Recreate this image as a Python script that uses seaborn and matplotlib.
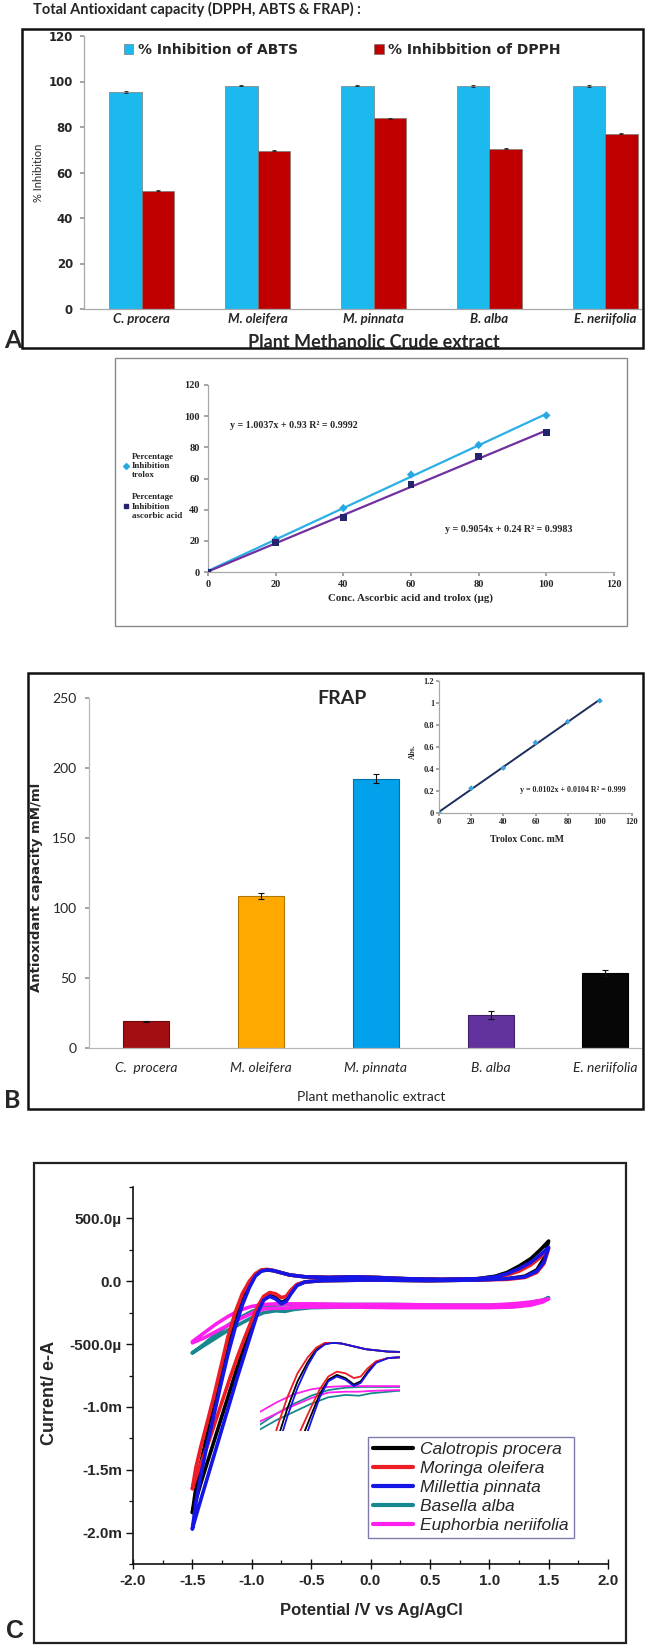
import numpy as np
import pandas as pd
import matplotlib
matplotlib.use("Agg")
import matplotlib.pyplot as plt
import seaborn as sns
from matplotlib.patches import Rectangle
from matplotlib.lines import Line2D
from matplotlib.ticker import MultipleLocator

sns.set_theme(style="white")
plt.rcParams['font.family'] = ['DejaVu Sans']

# ---------------- data ----------------
title_txt = "Total Antioxidant capacity (DPPH, ABTS & FRAP) :"
plants_a = ["C. procera", "M. oleifera", "M. pinnata", "B. alba", "E. neriifolia"]
series_a = ["% Inhibition of ABTS", "% Inhibbition of DPPH"]
abts = [95.4, 98.2, 98.2, 98.0, 98.1]
dpph = [52.0, 69.5, 83.8, 70.4, 77.0]
abts_err = [0.4, 0.3, 0.3, 0.3, 0.4]
dpph_err = [0.2, 0.2, 0.2, 0.2, 0.2]

conc = [0, 20, 40, 60, 80, 100]
trolox_inh = [0, 21, 41, 62.5, 81.5, 100.5]
ascorbic_inh = [0, 19, 35, 56, 74, 89.5]
eq_trolox = "y = 1.0037x + 0.93 R² = 0.9992"
eq_ascorbic = "y = 0.9054x + 0.24 R² = 0.9983"

plants_b = ["C.  procera", "M. oleifera", "M. pinnata", "B. alba", "E. neriifolia"]
frap = [19.0, 108.5, 192.5, 23.5, 53.5]
frap_err = [0.6, 2.0, 3.2, 3.0, 2.4]
trolox_conc = [0, 20, 40, 60, 80, 100]
trolox_abs = [0.0, 0.225, 0.41, 0.64, 0.83, 1.02]
eq_frap = "y = 0.0102x + 0.0104 R² = 0.999"

cv_names = ["Calotropis procera", "Moringa oleifera", "Millettia pinnata",
            "Basella alba", "Euphorbia neriifolia"]
# potential (V) for the three strong responses, forward and return scan
e_fwd1 = [-1.50, -1.47, -1.43, -1.38, -1.32, -1.26, -1.20, -1.14, -1.08, -1.02, -0.97,
          -0.92, -0.87, -0.82, -0.76, -0.68, -0.55, -0.35, -0.15, 0.05, 0.30, 0.60,
          0.90, 1.05, 1.15, 1.25, 1.35, 1.43, 1.50]
e_ret1 = [1.50, 1.46, 1.40, 1.30, 1.15, 0.90, 0.50, 0.00, -0.40, -0.55, -0.62, -0.67,
          -0.71, -0.75, -0.80, -0.85, -0.90, -0.95, -1.00, -1.06, -1.12, -1.18, -1.24,
          -1.30, -1.36, -1.42, -1.47, -1.50]
# current (mA)
cp_fwd = [-1.84, -1.64, -1.45, -1.24, -1.00, -0.75, -0.52, -0.32, -0.15, -0.03, 0.05,
          0.085, 0.09, 0.085, 0.07, 0.05, 0.035, 0.03, 0.035, 0.03, 0.02, 0.015,
          0.02, 0.04, 0.07, 0.12, 0.18, 0.25, 0.32]
cp_ret = [0.32, 0.18, 0.09, 0.04, 0.02, 0.01, 0.005, 0.01, 0.005, -0.005, -0.03, -0.09,
          -0.15, -0.17, -0.13, -0.11, -0.14, -0.23, -0.36, -0.52, -0.68, -0.86, -1.04,
          -1.22, -1.40, -1.58, -1.74, -1.84]
mo_fwd = [-1.65, -1.48, -1.32, -1.14, -0.92, -0.68, -0.44, -0.25, -0.10, 0.00, 0.06,
          0.09, 0.095, 0.085, 0.07, 0.05, 0.035, 0.03, 0.035, 0.03, 0.02, 0.015,
          0.02, 0.03, 0.05, 0.08, 0.13, 0.19, 0.26]
mo_ret = [0.26, 0.14, 0.07, 0.03, 0.015, 0.01, 0.005, 0.01, 0.005, -0.005, -0.025, -0.07,
          -0.12, -0.13, -0.10, -0.09, -0.12, -0.20, -0.31, -0.45, -0.60, -0.76, -0.93,
          -1.10, -1.27, -1.43, -1.56, -1.65]
mp_fwd = [-1.97, -1.76, -1.55, -1.32, -1.07, -0.82, -0.58, -0.37, -0.19, -0.05, 0.04,
          0.08, 0.09, 0.085, 0.07, 0.05, 0.035, 0.03, 0.035, 0.03, 0.02, 0.015,
          0.02, 0.035, 0.06, 0.10, 0.15, 0.21, 0.27]
mp_ret = [0.27, 0.15, 0.08, 0.035, 0.02, 0.01, 0.005, 0.01, 0.005, -0.005, -0.035, -0.10,
          -0.16, -0.18, -0.14, -0.12, -0.15, -0.25, -0.40, -0.58, -0.76, -0.95, -1.14,
          -1.33, -1.52, -1.71, -1.87, -1.97]
# potential (V) for the two weak responses
e_fwd2 = [-1.50, -1.40, -1.30, -1.20, -1.10, -1.00, -0.90, -0.80, -0.70, -0.50, -0.20,
          0.20, 0.60, 1.00, 1.20, 1.35, 1.45, 1.50]
e_ret2 = [1.50, 1.45, 1.35, 1.20, 1.00, 0.60, 0.20, -0.20, -0.50, -0.65, -0.72, -0.80,
          -0.90, -1.00, -1.10, -1.20, -1.30, -1.40, -1.50]
ba_fwd = [-0.57, -0.50, -0.42, -0.35, -0.29, -0.24, -0.205, -0.19, -0.185, -0.185, -0.185,
          -0.185, -0.19, -0.19, -0.185, -0.17, -0.15, -0.13]
ba_ret = [-0.13, -0.16, -0.185, -0.20, -0.205, -0.205, -0.205, -0.205, -0.21, -0.225, -0.24,
          -0.235, -0.25, -0.29, -0.34, -0.39, -0.45, -0.51, -0.57]
en_fwd = [-0.48, -0.41, -0.34, -0.28, -0.23, -0.20, -0.185, -0.18, -0.18, -0.18, -0.185,
          -0.185, -0.19, -0.19, -0.18, -0.165, -0.15, -0.14]
en_ret = [-0.14, -0.165, -0.19, -0.205, -0.21, -0.21, -0.21, -0.205, -0.205, -0.21, -0.215,
          -0.215, -0.22, -0.255, -0.30, -0.35, -0.40, -0.45, -0.49]

cv_yticks = [0.5, 0.0, -0.5, -1.0, -1.5, -2.0]
cv_ylabels = ["500.0µ", "0.0", "-500.0µ", "-1.0m", "-1.5m", "-2.0m"]
cv_xticks = [-2.0, -1.5, -1.0, -0.5, 0.0, 0.5, 1.0, 1.5, 2.0]

# ---------------- styles ----------------
c_abts, c_dpph = "#1BB9EE", "#C00000"
colors_b = ["#A30E12", "#FFA800", "#02A1EC", "#62329E", "#060606"]
edges_b = ["#6E0A0C", "#B27600", "#0172A8", "#40206A", "#000000"]
cv_colors = {"Calotropis procera": "#000000", "Moringa oleifera": "#EE1C24",
             "Millettia pinnata": "#1515E6", "Basella alba": "#17898E",
             "Euphorbia neriifolia": "#FF1FEF"}
SANS = ['Lato', 'DejaVu Sans']
SERIF = ['Liberation Serif', 'DejaVu Serif']
ARIAL = ['Liberation Sans', 'DejaVu Sans']

W, H = 646, 1647
fig = plt.figure(figsize=(W / 100, H / 100), dpi=100)
fig.patch.set_facecolor("white")


def fb(x0, y0, x1, y1):
    return [x0 / W, 1 - y1 / H, (x1 - x0) / W, (y1 - y0) / H]


def frame(x0, y0, x1, y1, lw, color):
    fig.add_artist(Rectangle((x0 / W, 1 - y1 / H), (x1 - x0) / W, (y1 - y0) / H,
                             transform=fig.transFigure, fill=False, lw=lw, ec=color))


def ftext(x, y, s, **kw):
    return fig.text(x / W, 1 - y / H, s, **kw)


def light_axes(ax, color="#A8A8A8"):
    for s in ["top", "right"]:
        ax.spines[s].set_visible(False)
    for s in ["left", "bottom"]:
        ax.spines[s].set_color(color)
        ax.spines[s].set_linewidth(0.9)
    ax.set_facecolor("none")

# ================= Panel A =================
ftext(33, 9, title_txt, family=SANS, fontweight="bold", fontsize=10.5, va="center")
frame(22, 29, 643, 348, 1.8, "#111111")
axA = fig.add_axes(fb(84, 36, 641, 309))
dfA = pd.DataFrame({"plant": plants_a * 2,
                    "series": [series_a[0]] * 5 + [series_a[1]] * 5,
                    "val": abts + dpph})
sns.barplot(data=dfA, x="plant", y="val", hue="series", palette=[c_abts, c_dpph],
            width=0.56, saturation=1, errorbar=None, legend=False, ax=axA,
            linewidth=0.5, edgecolor="#7a7a7a")
errsA = abts_err + dpph_err
for p, e in zip(axA.patches, errsA):
    axA.errorbar(p.get_x() + p.get_width() / 2, p.get_height(), yerr=e, color="#222222",
                 lw=0.6, capsize=1.5, capthick=0.6)
axA.set_ylim(0, 120)
axA.set_xlim(-0.5, 4.31)
axA.set_yticks(range(0, 121, 20))
axA.set_yticklabels([str(v) for v in range(0, 121, 20)], fontweight="bold", fontsize=8.5,
                    family=['DejaVu Sans'])
axA.set_xticks(range(5))
axA.set_xticklabels(plants_a, family=SANS, fontweight="bold", fontstyle="italic", fontsize=9.5)
axA.tick_params(axis="y", length=3, color="#999999", direction="out", pad=5, left=True)
axA.tick_params(axis="x", length=0, pad=3)
axA.set_xlabel("")
axA.set_ylabel("")
light_axes(axA)
handlesA = [Rectangle((0, 0), 1, 1, fc=c, ec="#666666", lw=0.4) for c in (c_abts, c_dpph)]
axA.legend(handlesA, series_a, loc="center", bbox_to_anchor=(342 / W, 1 - 50 / H),
           bbox_transform=fig.transFigure, ncol=2, frameon=False, handlelength=0.7,
           handleheight=0.7, handletextpad=0.3, columnspacing=5.5,
           prop=dict(family="DejaVu Sans", weight="bold", size=10))
ftext(39, 173, "% Inhibition", rotation=90, family=SANS, fontsize=8, va="center", ha="center")
ftext(374, 342, "Plant Methanolic Crude extract", family=SANS, fontweight="bold",
      fontsize=13, ha="center", va="center")
ftext(4, 340, "A", family=SANS, fontweight="bold", fontsize=18, va="center")

# ================= Calibration (line) panel =================
frame(115, 358, 627, 626, 1.0, "#8A8A8A")
axL = fig.add_axes(fb(208, 385, 614, 572))
sns.regplot(x=conc, y=trolox_inh, ci=None, scatter=False, ax=axL,
            line_kws=dict(color="#2AAFE6", lw=1.6))
sns.regplot(x=conc, y=ascorbic_inh, ci=None, scatter=False, ax=axL,
            line_kws=dict(color="#7030A0", lw=1.6))
sns.scatterplot(x=conc, y=trolox_inh, marker="D", s=18, color="#27A8E0", edgecolor="none",
                ax=axL, zorder=5)
sns.scatterplot(x=conc, y=ascorbic_inh, marker="s", s=24, color="#24246E", edgecolor="none",
                ax=axL, zorder=5)
axL.set_xlim(0, 120)
axL.set_ylim(0, 120)
axL.set_xticks(range(0, 121, 20))
axL.set_yticks(range(0, 121, 20))
for lab in axL.get_xticklabels() + axL.get_yticklabels():
    lab.set_family(SERIF)
    lab.set_fontweight("bold")
    lab.set_fontsize(7.5)
axL.tick_params(length=3, color="#999999", direction="out", pad=3, left=True, bottom=True)
light_axes(axL)
handlesL = [Line2D([], [], ls="none", marker="D", ms=3, color="#27A8E0"),
            Line2D([], [], ls="none", marker="s", ms=3, color="#24246E")]
axL.legend(handlesL, ["Percentage\nInhibition\ntrolox", "Percentage\nInhibition\nascorbic acid"],
           loc="upper left", bbox_to_anchor=(119 / W, 1 - 448 / H), bbox_transform=fig.transFigure,
           frameon=False, handlelength=0.6, handletextpad=0.3, labelspacing=1.6,
           borderpad=0, prop=dict(family="Liberation Serif", weight="bold", size=6.5))
ftext(230, 425, eq_trolox, family=SERIF, fontweight="bold", fontsize=7.2, va="center")
ftext(445, 529, eq_ascorbic, family=SERIF, fontweight="bold", fontsize=7.2, va="center")
ftext(411, 598, "Conc. Ascorbic acid and trolox (µg)", family=SERIF, fontweight="bold",
      fontsize=7.8, ha="center", va="center")

# ================= Panel B =================
frame(28, 673, 643, 1109, 1.8, "#111111")
axB = fig.add_axes(fb(89, 698, 641, 1048))
sns.barplot(x=plants_b, y=frap, hue=plants_b, palette=colors_b, width=0.4, saturation=1,
            legend=False, ax=axB, linewidth=0.8)
for p, ec in zip(axB.patches, edges_b):
    p.set_edgecolor(ec)
axB.errorbar([p.get_x() + p.get_width() / 2 for p in axB.patches],
             [p.get_height() for p in axB.patches], yerr=frap_err, fmt="none",
             ecolor="#111111", lw=0.8, capsize=2.5, capthick=0.8)
axB.set_ylim(0, 250)
axB.set_xlim(-0.5, 4.31)
axB.set_yticks(range(0, 251, 50))
axB.set_yticklabels([str(v) for v in range(0, 251, 50)], family=SANS, fontsize=10)
axB.set_xticks(range(5))
axB.set_xticklabels(plants_b, family=SANS, fontstyle="italic", fontsize=10)
axB.tick_params(axis="y", length=3, color="#999999", direction="out", pad=6, left=True)
axB.tick_params(axis="x", length=0, pad=10)
light_axes(axB, "#B8B8B8")
ftext(37, 887, "Antioxidant capacity mM/ml", rotation=90, family="DejaVu Sans",
      fontweight="bold", fontsize=9.5, ha="center", va="center")
ftext(371, 1097, "Plant methanolic extract", family=SANS, fontsize=10, ha="center", va="center")
ftext(342, 698, "FRAP", family=SANS, fontweight="bold", fontsize=14, ha="center", va="center")
ftext(4, 1101, "B", family=SANS, fontweight="bold", fontsize=18, va="center")

# inset standard curve
axBi = fig.add_axes(fb(439, 681, 632, 813))
sns.regplot(x=trolox_conc, y=trolox_abs, ci=None, scatter=False, ax=axBi,
            line_kws=dict(color="#1C2C5C", lw=1.4))
sns.scatterplot(x=trolox_conc, y=trolox_abs, marker="D", s=9, color="#3A9FDA",
                edgecolor="none", ax=axBi, zorder=5)
axBi.set_xlim(0, 120)
axBi.set_ylim(0, 1.2)
axBi.set_xticks(range(0, 121, 20))
axBi.set_yticks([0, 0.2, 0.4, 0.6, 0.8, 1.0, 1.2])
axBi.set_yticklabels(["0", "0.2", "0.4", "0.6", "0.8", "1", "1.2"])
for lab in axBi.get_xticklabels() + axBi.get_yticklabels():
    lab.set_family(SERIF)
    lab.set_fontweight("bold")
    lab.set_fontsize(6)
axBi.tick_params(length=2, color="#999999", direction="out", pad=1.5, left=True, bottom=True)
light_axes(axBi)
ftext(413, 752, "Abs.", rotation=90, family=SERIF, fontweight="bold", fontsize=5.5,
      ha="center", va="center")
ftext(527, 839, "Trolox Conc. mM", family=SERIF, fontweight="bold", fontsize=7,
      ha="center", va="center")
ftext(626, 790, eq_frap, family=SERIF, fontweight="bold", fontsize=5.8, ha="right",
      va="center")

# ================= Panel C =================
frame(34, 1163, 626, 1643, 1.6, "#222222")
axC = fig.add_axes(fb(133, 1187, 608, 1564))
cv_sets = [("Basella alba", e_fwd2 + e_ret2, ba_fwd + ba_ret),
           ("Euphorbia neriifolia", e_fwd2 + e_ret2, en_fwd + en_ret),
           ("Calotropis procera", e_fwd1 + e_ret1, cp_fwd + cp_ret),
           ("Moringa oleifera", e_fwd1 + e_ret1, mo_fwd + mo_ret),
           ("Millettia pinnata", e_fwd1 + e_ret1, mp_fwd + mp_ret)]
for name, ev, iv in cv_sets:
    sns.lineplot(x=ev, y=iv, sort=False, estimator=None, color=cv_colors[name], lw=2.6,
                 ax=axC)
axC.set_xlim(-2.0, 2.0)
axC.set_ylim(-2.25, 0.75)
axC.set_xticks(cv_xticks)
axC.set_xticklabels([f"{v:.1f}" for v in cv_xticks], family=ARIAL, fontweight="bold",
                    fontsize=11)
axC.set_yticks(cv_yticks)
axC.set_yticklabels(cv_ylabels, family=ARIAL, fontweight="bold", fontsize=11)
axC.xaxis.set_minor_locator(MultipleLocator(0.25))
axC.yaxis.set_minor_locator(MultipleLocator(0.25))
axC.tick_params(axis="y", which="major", length=5, width=1.0, color="#111111",
                direction="out", left=True, pad=3)
axC.tick_params(axis="y", which="minor", length=3, width=0.9, color="#111111",
                direction="out", left=True)
axC.tick_params(axis="x", which="major", length=7, width=1.0, color="#111111",
                direction="inout", bottom=True, pad=4)
axC.tick_params(axis="x", which="minor", length=3, width=0.9, color="#111111",
                direction="in", bottom=True)
for s in ["top", "right"]:
    axC.spines[s].set_visible(False)
for s in ["left", "bottom"]:
    axC.spines[s].set_color("#111111")
    axC.spines[s].set_linewidth(1.2)
axC.set_facecolor("none")
handlesC = [Line2D([], [], color=cv_colors[n], lw=3) for n in cv_names]
axC.legend(handlesC, cv_names, loc="upper left", bbox_to_anchor=(368 / W, 1 - 1437 / H),
           bbox_transform=fig.transFigure, frameon=True, fancybox=False, edgecolor="#7C7CA6",
           framealpha=1, handlelength=2.3, handletextpad=0.4, labelspacing=0.22,
           borderpad=0.3, borderaxespad=0,
           prop=dict(family="Liberation Sans", style="italic", size=12.5))
ftext(371, 1611, "Potential /V vs Ag/AgCl", family=ARIAL, fontweight="bold", fontsize=12,
      ha="center", va="center")
ftext(49, 1393, "Current/ e-A", rotation=90, family=ARIAL, fontweight="bold", fontsize=13,
      ha="center", va="center")
ftext(6, 1631, "C", family=ARIAL, fontweight="bold", fontsize=18, va="center")

# magnified inset of the redox region
axCi = fig.add_axes(fb(260, 1342, 400, 1431))
for name, ev, iv in cv_sets:
    sns.lineplot(x=ev, y=iv, sort=False, estimator=None, color=cv_colors[name], lw=1.3,
                 ax=axCi)
axCi.set_xlim(-1.3, -0.48)
axCi.set_ylim(-0.46, 0.095)
axCi.axis("off")
axCi.set_facecolor("none")

fig.savefig("out.png", dpi=100)
